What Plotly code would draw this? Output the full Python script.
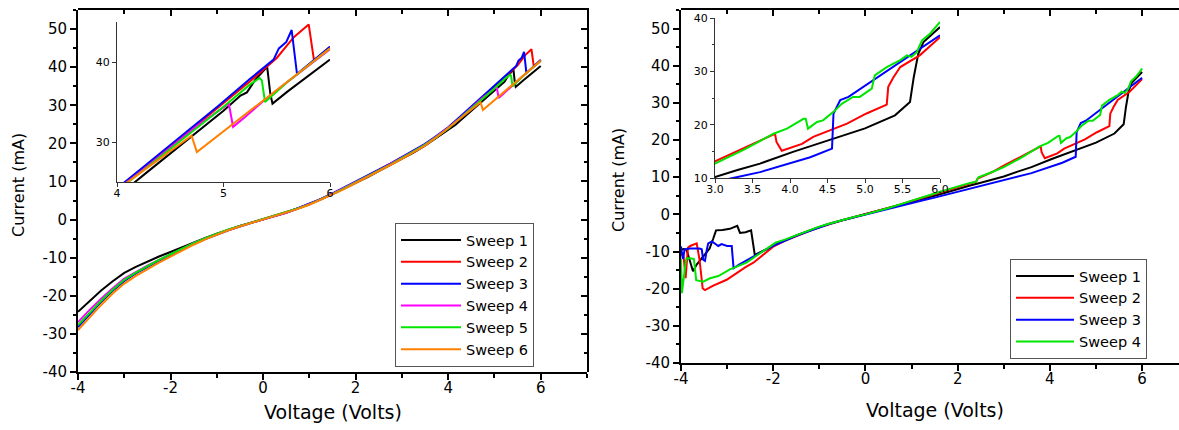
import plotly.graph_objects as go

# ---------------- Left panel data (6 sweeps) ----------------
VL_GRID = [-4.0, -3.75, -3.5, -3.25, -3.0, -2.75, -2.5, -2.25, -2.0, -1.75, -1.5, -1.25,
           -1.0, -0.75, -0.5, -0.25, 0.0, 0.25, 0.5, 0.75, 1.0, 1.25, 1.5, 1.75, 2.0,
           2.25, 2.5, 2.75, 3.0, 3.25, 3.5, 3.75, 4.0]

L1_I = [-24.2, -21.3, -18.6, -16.2, -14.0, -12.4, -11.0, -9.7, -8.5, -7.2, -6.0, -4.8, -3.7, -2.6, -1.7, -0.8,
        0.0, 0.9, 1.8, 2.9, 4.0, 5.3, 6.7, 8.1, 9.6, 11.1, 12.7, 14.3, 15.9, 17.6, 19.4, 21.4, 23.6]
L1_TV = [4.16, 4.28, 4.4, 4.6, 4.8, 5.0, 5.16, 5.22, 5.3, 5.41, 5.44, 5.46, 5.6, 5.8, 5.94, 6.0]
L1_TI = [24.9, 26.2, 27.5, 29.6, 31.8, 33.9, 35.8, 36.2, 37.8, 39.4, 36.0, 34.8, 36.3, 38.3, 39.6, 40.3]

L2_I = [-27.9, -24.6, -21.5, -18.6, -16.0, -14.0, -12.3, -10.7, -9.2, -7.7, -6.3, -5.0, -3.8, -2.7, -1.7, -0.8,
        0.0, 0.9, 1.8, 2.9, 4.0, 5.3, 6.8, 8.2, 9.8, 11.3, 12.9, 14.5, 16.2, 17.9, 19.7, 21.8, 24.0]
L2_TV = [4.25, 4.5, 4.75, 5.0, 5.25, 5.5, 5.66, 5.8, 5.85, 6.0]
L2_TI = [26.7, 29.4, 32.1, 34.8, 37.6, 40.5, 43.1, 44.7, 40.2, 41.9]

L3_I = [-28.2, -24.8, -21.6, -18.7, -16.1, -14.1, -12.4, -10.8, -9.3, -7.8, -6.4, -5.1, -3.9, -2.8, -1.8, -0.9,
        0.0, 0.9, 1.9, 3.0, 4.1, 5.4, 6.9, 8.4, 10.0, 11.5, 13.1, 14.7, 16.4, 18.1, 19.9, 22.0, 24.2]
L3_TV = [4.25, 4.5, 4.75, 4.95, 5.25, 5.47, 5.52, 5.59, 5.64, 5.69, 6.0]
L3_TI = [26.9, 29.6, 32.3, 34.5, 37.9, 40.3, 41.7, 42.5, 44.0, 38.5, 41.9]

L4_I = [-26.9, -23.7, -20.8, -18.0, -15.5, -13.7, -12.1, -10.6, -9.1, -7.6, -6.2, -4.9, -3.8, -2.7, -1.7, -0.8,
        0.0, 0.9, 1.8, 2.9, 4.0, 5.3, 6.8, 8.2, 9.8, 11.3, 12.9, 14.5, 16.2, 17.9, 19.7, 21.8, 24.0]
L4_TV = [4.25, 4.5, 4.75, 5.05, 5.09, 5.2, 5.38, 5.6, 5.8, 6.0]
L4_TI = [26.6, 29.3, 32.0, 34.8, 31.9, 33.1, 35.2, 37.5, 39.6, 41.6]

L5_I = [-27.7, -24.4, -21.3, -18.4, -15.8, -13.9, -12.2, -10.6, -9.1, -7.6, -6.2, -4.9, -3.7, -2.6, -1.7, -0.8,
        0.0, 0.9, 1.8, 2.9, 4.0, 5.3, 6.7, 8.2, 9.7, 11.2, 12.8, 14.4, 16.1, 17.8, 19.6, 21.7, 23.9]
L5_TV = [4.25, 4.5, 4.75, 5.0, 5.25, 5.34, 5.36, 5.39, 5.6, 5.8, 6.0]
L5_TI = [26.5, 29.1, 31.8, 34.4, 37.2, 38.0, 37.7, 35.0, 37.5, 39.6, 41.7]

L6_I = [-29.0, -25.6, -22.4, -19.4, -16.8, -14.8, -13.0, -11.3, -9.7, -8.1, -6.6, -5.2, -3.9, -2.8, -1.8, -0.9,
        0.0, 0.9, 1.8, 2.8, 3.9, 5.2, 6.6, 8.0, 9.6, 11.1, 12.7, 14.3, 15.9, 17.6, 19.4, 21.6, 24.0]
L6_TV = [4.25, 4.5, 4.70, 4.75, 5.0, 5.25, 5.5, 5.75, 6.0]
L6_TI = [26.5, 28.9, 30.8, 28.75, 31.3, 33.9, 36.5, 39.1, 41.7]

# ---------------- Right panel data (4 sweeps) ----------------
R1_V = [-4.0, -3.95, -3.88, -3.8, -3.74, -3.66, -3.5, -3.38, -3.3, -3.24, -3.1, -2.94, -2.78, -2.72, -2.6,
        -2.48, -2.4, -2.25, -2.0, -1.75, -1.5, -1.25, -1.0, -0.75, -0.5, -0.25, 0.0, 0.25, 0.5, 0.75, 1.0,
        1.25, 1.5, 1.75, 2.0, 2.25, 2.5, 2.75, 3.0, 3.3, 3.6, 4.04, 4.67, 5.0, 5.4, 5.6, 5.65, 5.71, 5.78, 6.0]
R1_I = [-9.6, -9.3, -9.5, -12.5, -15.3, -13.5, -11.2, -9.2, -6.5, -4.3, -4.2, -3.9, -3.1, -5.0, -4.8,
        -4.3, -10.9, -10.0, -8.4, -7.0, -5.7, -4.5, -3.4, -2.4, -1.6, -0.8, 0.0, 0.8, 1.6, 2.5, 3.4,
        4.2, 5.0, 5.9, 6.9, 7.7, 8.5, 9.3, 10.2, 11.5, 12.7, 14.9, 17.7, 19.3, 21.75, 24.25, 28.9, 33.3, 35.5, 38.3]

R2_V = [-4.0, -3.95, -3.9, -3.85, -3.8, -3.7, -3.66, -3.6, -3.53, -3.48, -3.3, -3.01, -2.86, -2.6, -2.43,
        -2.2, -2.0, -1.75, -1.5, -1.25, -1.0, -0.75, -0.5, -0.25, 0.0, 0.25, 0.5, 0.75, 1.0, 1.25, 1.5,
        1.75, 2.0, 2.25, 2.4, 2.43, 2.75, 3.0, 3.4, 3.8, 3.82, 3.89, 4.16, 4.31, 4.76, 5.02, 5.29, 5.31,
        5.38, 5.47, 5.73, 6.0]
R2_I = [-11.0, -10.5, -17.2, -9.0, -8.5, -8.0, -7.8, -12.0, -19.9, -20.4, -19.2, -17.6, -16.3, -14.2, -13.0,
        -10.8, -8.7, -7.1, -5.8, -4.6, -3.5, -2.5, -1.6, -0.8, 0.0, 0.8, 1.7, 2.6, 3.6, 4.5, 5.4,
        6.4, 7.4, 8.3, 8.8, 9.6, 11.4, 13.1, 15.7, 18.3, 16.75, 15.1, 16.4, 17.7, 20.2, 22.1, 23.75, 27.1,
        28.9, 30.8, 33.0, 36.4]

R3_V = [-4.0, -3.96, -3.92, -3.8, -3.6, -3.55, -3.52, -3.48, -3.44, -3.41, -3.33, -3.19, -3.12, -3.0, -2.9,
        -2.86, -2.75, -2.5, -2.25, -2.0, -1.75, -1.5, -1.25, -1.0, -0.75, -0.5, -0.25, 0.0, 0.25, 0.5, 0.75,
        1.0, 1.25, 1.5, 1.75, 2.0, 2.25, 2.5, 2.75, 3.0, 3.24, 3.6, 4.27, 4.56, 4.58, 4.67, 4.78, 5.38, 6.0]
R3_I = [-8.6, -12.0, -9.4, -9.2, -9.2, -9.4, -12.2, -12.5, -9.5, -7.8, -7.3, -8.5, -8.0, -8.5, -8.5,
        -14.5, -13.6, -11.8, -10.1, -8.5, -7.1, -5.8, -4.6, -3.5, -2.5, -1.6, -0.8, 0.0, 0.7, 1.5, 2.3,
        3.1, 3.8, 4.5, 5.3, 6.1, 6.8, 7.6, 8.4, 9.3, 10.0, 11.1, 13.9, 15.5, 22.1, 24.6, 25.2, 30.8, 36.75]

R4_V = [-4.0, -3.98, -3.9, -3.88, -3.8, -3.72, -3.67, -3.52, -3.37, -3.19, -2.94, -2.58, -2.3, -2.0, -1.95,
        -1.75, -1.5, -1.25, -1.0, -0.75, -0.5, -0.25, 0.0, 0.25, 0.5, 0.75, 1.0, 1.25, 1.5, 1.75, 2.0,
        2.25, 2.4, 2.45, 2.75, 3.0, 3.4, 3.78, 3.96, 4.18, 4.21, 4.24, 4.36, 4.44, 4.58, 4.69, 4.84, 4.93,
        5.09, 5.13, 5.29, 5.47, 5.56, 5.62, 5.69, 5.76, 5.87, 6.0]
R4_I = [-12.0, -21.2, -13.0, -11.8, -11.8, -12.0, -17.7, -18.1, -17.2, -16.6, -14.8, -13.0, -10.6, -8.2, -7.6,
        -6.8, -5.6, -4.4, -3.3, -2.4, -1.5, -0.7, 0.0, 0.8, 1.7, 2.7, 3.6, 4.7, 5.6, 6.6, 7.6,
        8.4, 8.8, 10.0, 11.4, 12.7, 15.4, 18.3, 19.25, 21.1, 21.1, 19.25, 20.5, 20.8, 22.4, 23.9, 25.2, 25.2,
        26.75, 29.25, 30.8, 32.1, 33.0, 32.7, 33.6, 35.8, 37.1, 39.25]

SWEEP_NAMES = ["Sweep 1", "Sweep 2", "Sweep 3", "Sweep 4", "Sweep 5", "Sweep 6"]
COLORS_L = ["#000000", "#FF0000", "#0000FF", "#FF00FF", "#00E600", "#FF8000"]
COLORS_R = ["#000000", "#FF0000", "#0000FF", "#00E600"]

# tick labels (plain hyphen minus, as in the reference)
X_TICKS = [-4, -2, 0, 2, 4, 6]
X_TICK_TEXT = ["-4", "-2", "0", "2", "4", "6"]
Y_TICKS = [-40, -30, -20, -10, 0, 10, 20, 30, 40, 50]
Y_TICK_TEXT = ["-40", "-30", "-20", "-10", "0", "10", "20", "30", "40", "50"]
IL_X_TICKS = [4, 5, 6]
IL_Y_TICKS = [30, 40]
IR_X_TICKS = [3.0, 3.5, 4.0, 4.5, 5.0, 5.5, 6.0]
IR_X_TICK_TEXT = ["3.0", "3.5", "4.0", "4.5", "5.0", "5.5", "6.0"]
IR_Y_TICKS = [10, 20, 30, 40]

LEFT = [(VL_GRID + L1_TV, L1_I + L1_TI), (VL_GRID + L2_TV, L2_I + L2_TI),
        (VL_GRID + L3_TV, L3_I + L3_TI), (VL_GRID + L4_TV, L4_I + L4_TI),
        (VL_GRID + L5_TV, L5_I + L5_TI), (VL_GRID + L6_TV, L6_I + L6_TI)]
RIGHT = [(R1_V, R1_I), (R2_V, R2_I), (R3_V, R3_I), (R4_V, R4_I)]

W, H = 1179, 430
FONT = "DejaVu Sans"

fig = go.Figure()

for k, (v, i) in enumerate(LEFT):
    fig.add_trace(go.Scatter(x=v, y=i, mode="lines", name=SWEEP_NAMES[k],
                             line=dict(color=COLORS_L[k], width=2),
                             xaxis="x", yaxis="y", legend="legend"))
for k, (v, i) in enumerate(LEFT):
    fig.add_trace(go.Scatter(x=v, y=i, mode="lines", showlegend=False,
                             line=dict(color=COLORS_L[k], width=2),
                             xaxis="x3", yaxis="y3"))
for k, (v, i) in enumerate(RIGHT):
    fig.add_trace(go.Scatter(x=v, y=i, mode="lines", name=SWEEP_NAMES[k],
                             line=dict(color=COLORS_R[k], width=2),
                             xaxis="x2", yaxis="y2", legend="legend2"))
for k, (v, i) in enumerate(RIGHT):
    fig.add_trace(go.Scatter(x=v, y=i, mode="lines", showlegend=False,
                             line=dict(color=COLORS_R[k], width=2),
                             xaxis="x4", yaxis="y4"))

# empty traces for the frame subplots (top / right axes with inward ticks)
fig.add_trace(go.Scatter(x=[None], y=[None], xaxis="x5", yaxis="y5", showlegend=False, hoverinfo="skip"))
fig.add_trace(go.Scatter(x=[None], y=[None], xaxis="x6", yaxis="y6", showlegend=False, hoverinfo="skip"))


def px_x(p):
    return p / W


def px_y(p):
    return (H - p) / H


def main_axis(**kw):
    d = dict(showline=True, linewidth=2, linecolor="black", ticks="outside", ticklen=6,
             tickwidth=1.5, tickcolor="black", showgrid=False, zeroline=False, automargin=False,
             tickfont=dict(family=FONT, size=15, color="black"))
    d.update(kw)
    return d


def mirror_axis(**kw):
    d = dict(showline=True, linewidth=2, linecolor="black", ticks="inside", ticklen=6,
             tickwidth=1.5, tickcolor="black", showgrid=False, zeroline=False, showticklabels=False,
             automargin=False, fixedrange=True)
    d.update(kw)
    return d


def inset_axis(**kw):
    d = dict(showline=True, linewidth=1, linecolor="#333333", ticks="outside", ticklen=4,
             tickwidth=1, tickcolor="#333333", showgrid=False, zeroline=False, automargin=False,
             tickfont=dict(family=FONT, size=11, color="black"))
    d.update(kw)
    return d


def minor(dt, side="outside"):
    return dict(ticks=side, ticklen=3.5, tickwidth=1.5, tickcolor="black", tick0=0, dtick=dt,
                showgrid=False)


LX_DOM = [px_x(78), px_x(587)]
LY_DOM = [px_y(372), px_y(10)]
RX_DOM = [px_x(681), 1.0]
RY_DOM = [px_y(363), px_y(10)]

fig.update_layout(
    template="none",
    width=W, height=H, autosize=False,
    margin=dict(l=0, r=0, t=0, b=0, pad=0),
    paper_bgcolor="white", plot_bgcolor="rgba(0,0,0,0)",
    font=dict(family=FONT, color="black"),
    hovermode=False,
    xaxis=main_axis(domain=LX_DOM, range=[-4, 7], tickvals=X_TICKS, ticktext=X_TICK_TEXT,
                    anchor="y", minor=minor(1), ticklabelstandoff=-5),
    yaxis=main_axis(domain=LY_DOM, range=[-40, 55], tickvals=Y_TICKS, ticktext=Y_TICK_TEXT,
                    anchor="x", minor=minor(5)),
    xaxis5=mirror_axis(domain=LX_DOM, side="top", anchor="y5", range=[-4, 7], tickvals=X_TICKS,
                       minor=minor(1, "inside")),
    yaxis5=mirror_axis(domain=LY_DOM, side="right", anchor="x5", range=[-40, 55], tickvals=Y_TICKS,
                       minor=minor(5, "inside")),
    xaxis2=main_axis(domain=RX_DOM, range=[-4, 6.8], tickvals=X_TICKS, ticktext=X_TICK_TEXT,
                     anchor="y2", minor=minor(1), ticklabelstandoff=-5),
    yaxis2=main_axis(domain=RY_DOM, range=[-40, 55], tickvals=Y_TICKS, ticktext=Y_TICK_TEXT,
                     anchor="x2", minor=minor(5)),
    xaxis6=mirror_axis(domain=RX_DOM, side="top", anchor="y6", range=[-4, 6.8], tickvals=X_TICKS,
                       minor=minor(1, "inside")),
    yaxis6=dict(domain=RY_DOM, anchor="x6", range=[-40, 55], showline=False, showticklabels=False,
                ticks="", showgrid=False, zeroline=False, automargin=False, fixedrange=True),
    xaxis3=inset_axis(domain=[px_x(117), px_x(330)], range=[4, 6], tickvals=IL_X_TICKS, anchor="y3",
                      ticklabelstandoff=-3),
    yaxis3=inset_axis(domain=[px_y(182), px_y(22)], range=[25, 45], tickvals=IL_Y_TICKS, anchor="x3"),
    xaxis4=inset_axis(domain=[px_x(715), px_x(940)], range=[3, 6], tickvals=IR_X_TICKS,
                      ticktext=IR_X_TICK_TEXT, anchor="y4", ticklabelstandoff=-3),
    yaxis4=inset_axis(domain=[px_y(178), px_y(18)], range=[10, 40], tickvals=IR_Y_TICKS, anchor="x4",
                      minor=dict(ticks="outside", ticklen=2.5, tickwidth=1, tickcolor="#333333",
                                 tick0=10, dtick=5, showgrid=False)),
    legend=dict(x=px_x(395), y=px_y(223), xanchor="left", yanchor="top",
                bgcolor="white", bordercolor="#555555", borderwidth=1,
                font=dict(family=FONT, size=14.5, color="black"), itemwidth=60,
                tracegroupgap=0),
    legend2=dict(x=px_x(1010), y=px_y(259), xanchor="left", yanchor="top",
                 bgcolor="white", bordercolor="#555555", borderwidth=1,
                 font=dict(family=FONT, size=14.5, color="black"), itemwidth=58,
                 tracegroupgap=0),
    annotations=[
        dict(text="Voltage (Volts)", xref="paper", yref="paper", x=px_x(333), y=px_y(412),
             xanchor="center", yanchor="middle", showarrow=False,
             font=dict(family=FONT, size=19, color="black")),
        dict(text="Voltage (Volts)", xref="paper", yref="paper", x=px_x(935), y=px_y(410),
             xanchor="center", yanchor="middle", showarrow=False,
             font=dict(family=FONT, size=19, color="black")),
        dict(text="Current (mA)", xref="paper", yref="paper", x=px_x(18), y=px_y(185),
             xanchor="center", yanchor="middle", showarrow=False, textangle=-90,
             font=dict(family=FONT, size=16, color="black")),
        dict(text="Current (mA)", xref="paper", yref="paper", x=px_x(619), y=px_y(180),
             xanchor="center", yanchor="middle", showarrow=False, textangle=-90,
             font=dict(family=FONT, size=16, color="black")),
    ],
)

fig.write_html("out.html", config={"displayModeBar": False},
               post_script="document.body.style.margin='0px';")
